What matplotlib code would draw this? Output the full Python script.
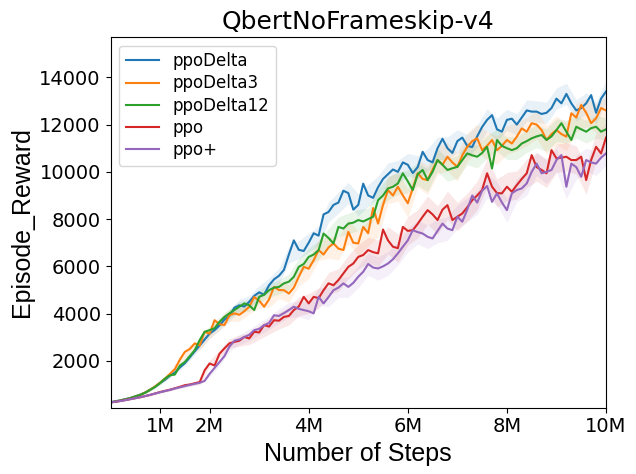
import numpy as np
import matplotlib
matplotlib.use("Agg")
import matplotlib.pyplot as plt

steps_m = [round(0.1 * i, 1) for i in range(101)]

ppoDelta = [250, 290, 330, 380, 430, 500, 570, 660, 780, 900, 1060, 1200, 1380, 1500, 1720, 1900, 2150, 2400, 2650, 2900,
            3150, 3300, 3500, 3750, 3900, 4250, 4350, 4300, 4500, 4750, 4900, 4800, 5200, 5450, 5600, 5850, 6500, 7100, 6700, 6650,
            7000, 7400, 7300, 8200, 8300, 8600, 8700, 9200, 9100, 8400, 8600, 9500, 9000, 8900, 9350, 9700, 9900, 10100, 10000, 10400,
            10300, 9950, 10200, 10850, 10500, 10400, 11000, 11400, 11000, 10800, 11300, 11450, 11100, 11050, 11500, 11900, 12200, 12400, 11800, 11700,
            12200, 12250, 12000, 12300, 12600, 12550, 12550, 12450, 12500, 12700, 13100, 12900, 13300, 12900, 12600, 12700, 12900, 13250, 12500, 13100,
            13400]
ppoDelta3 = [240, 280, 320, 370, 420, 490, 560, 660, 780, 920, 1080, 1250, 1450, 1650, 2050, 2380, 2500, 2740, 2650, 3230,
             3150, 3720, 3550, 3520, 3930, 4010, 3950, 4100, 4290, 4700, 4550, 4290, 4600, 5130, 5000, 4990, 4850, 5100, 5560, 5980,
             5900, 6260, 6690, 6500, 6800, 6970, 6750, 6690, 7460, 7000, 6970, 7670, 7400, 8470, 7810, 8600, 9230, 9000, 9370, 9000,
             8670, 9300, 9940, 9700, 9650, 10100, 10500, 10300, 10640, 10400, 10210, 10700, 11060, 11300, 11420, 10920, 11100, 11350, 10920, 11100,
             11350, 11200, 11490, 11840, 11700, 12060, 12000, 11770, 11350, 11600, 11770, 11600, 11490, 12480, 12300, 12830, 12500, 12060, 12270, 12700,
             12600]
ppoDelta12 = [240, 280, 320, 370, 420, 490, 560, 650, 770, 900, 1060, 1250, 1390, 1420, 1800, 1950, 2200, 2450, 2880, 3230,
              3300, 3380, 3650, 3860, 4010, 4150, 4290, 4430, 4350, 4150, 4710, 4800, 4990, 5100, 5130, 5280, 5350, 5560, 5980, 6100,
              6400, 6500, 6690, 7390, 7200, 6970, 7670, 7600, 7810, 7850, 7960, 7900, 8000, 8100, 8800, 9000, 9300, 9370, 9510, 9940,
              9600, 9230, 9900, 10080, 9650, 10000, 10500, 10300, 10080, 10150, 10210, 10500, 10780, 10700, 10640, 10800, 11060, 10140, 11350, 11100,
              11000, 10920, 11000, 11200, 11300, 11420, 11500, 11560, 11350, 11500, 11770, 12060, 11700, 11350, 11910, 11800, 11700, 11850, 11910, 11700,
              11800]
ppo = [240, 270, 300, 340, 380, 420, 460, 510, 560, 620, 680, 730, 780, 840, 900, 970, 1000, 1050, 1100, 1600,
       1890, 1800, 2300, 2530, 2740, 2800, 2850, 3010, 2950, 3230, 3200, 3510, 3450, 3720, 3700, 3860, 3900, 4150, 4300, 4710,
       4430, 4710, 4650, 4990, 5280, 5200, 5420, 5700, 5980, 6120, 6400, 6480, 6690, 6600, 6550, 7560, 7100, 6830, 6770, 7670,
       7500, 7530, 7800, 8100, 8380, 8200, 7960, 8400, 8590, 7960, 8100, 8240, 8500, 8800, 9000, 9230, 9940, 9370, 9100, 9090,
       9370, 9160, 9440, 9700, 9940, 10710, 10200, 10080, 9940, 10920, 10570, 10600, 10640, 10500, 10500, 10640, 9650, 10500, 11060, 10780,
       11450]
ppo_plus = [240, 270, 300, 340, 380, 420, 460, 510, 560, 615, 670, 720, 770, 830, 880, 930, 980, 1030, 1070, 1150,
            1450, 1700, 1950, 2200, 2600, 2850, 2900, 3010, 3100, 3300, 3350, 3510, 3600, 3930, 3900, 4020, 4150, 4290, 4200, 4150,
            4100, 4010, 4710, 4430, 4700, 4990, 5100, 5280, 5130, 5300, 5560, 5770, 6100, 5950, 5910, 6000, 6120, 6300, 6550, 6830,
            7100, 7530, 7450, 7390, 7250, 7180, 7500, 7810, 7600, 7530, 8100, 7890, 8400, 9000, 8700, 9200, 9400, 8730, 9090, 8700,
            8380, 9090, 9230, 9300, 9510, 10000, 10350, 9940, 10000, 10080, 10500, 10710, 9370, 10350, 10200, 9790, 10500, 10400, 10350, 10600,
            10780]

# spread (shaded band half-width) every 0.2M
sd_delta = [20, 25, 30, 40, 50, 70, 90, 110, 130, 150, 180, 200, 220, 250, 260, 280, 300, 320, 350, 380,
            400, 400, 420, 440, 450, 460, 460, 470, 480, 480, 480, 480, 480, 480, 480, 480, 480, 480,
            480, 480, 450, 450, 450, 450, 450, 450, 450, 450, 450, 450, 450]
sd_delta3 = [20, 25, 30, 40, 50, 80, 110, 150, 180, 200, 220, 240, 260, 280, 300, 320, 340, 360, 380, 400,
             420, 440, 460, 480, 500, 520, 540, 560, 580, 600, 600, 600, 600, 600, 600, 600, 600, 600,
             600, 600, 600, 600, 600, 600, 600, 600, 600, 600, 600, 600, 600]
sd_delta12 = [20, 25, 30, 40, 50, 70, 90, 110, 130, 150, 170, 190, 210, 230, 250, 270, 290, 310, 330, 350,
              370, 390, 400, 420, 440, 450, 460, 470, 480, 480, 480, 480, 480, 480, 480, 480, 480, 480,
              480, 480, 480, 480, 480, 480, 480, 480, 480, 480, 480, 480, 480]
sd_ppo = [20, 25, 30, 30, 40, 40, 50, 50, 60, 80, 120, 160, 200, 230, 260, 290, 320, 350, 380, 400,
          420, 440, 460, 480, 500, 520, 540, 560, 580, 600, 600, 600, 600, 600, 600, 600, 600, 600,
          600, 600, 600, 600, 600, 600, 600, 600, 600, 600, 600, 600, 600]
sd_ppo_plus = [20, 25, 30, 30, 40, 40, 50, 50, 60, 80, 120, 160, 200, 220, 240, 260, 280, 300, 320, 340,
               360, 380, 400, 420, 440, 460, 480, 500, 500, 500, 500, 500, 500, 500, 500, 500, 500, 500,
               500, 500, 500, 500, 500, 500, 500, 500, 500, 500, 500, 500, 500]

labels = ["ppoDelta", "ppoDelta3", "ppoDelta12", "ppo", "ppo+"]
series = [ppoDelta, ppoDelta3, ppoDelta12, ppo, ppo_plus]
sds = [sd_delta, sd_delta3, sd_delta12, sd_ppo, sd_ppo_plus]
colors = ["#1f77b4", "#ff7f0e", "#2ca02c", "#d62728", "#9467bd"]

xtick_vals = [1, 2, 4, 6, 8, 10]
xtick_labels = ["1M", "2M", "4M", "6M", "8M", "10M"]
ytick_vals = [2000, 4000, 6000, 8000, 10000, 12000, 14000]

fig = plt.figure(figsize=(6.36, 4.74), dpi=100)
ax = fig.add_axes([110.5 / 636, 1 - 407.5 / 474, 495.5 / 636, 370.3 / 474])

x = np.array(steps_m) * 1e6
for lab, y, sd, c in zip(labels, series, sds, colors):
    y = np.array(y, dtype=float)
    sd = np.array(sd, dtype=float)
    ax.fill_between(x[::2], y[::2] - sd, y[::2] + sd, color=c, alpha=0.1, linewidth=0)
    ax.plot(x, y, color=c, linewidth=1.5, label=lab)

ax.set_xlim(0, 10e6)
ax.set_ylim(25, 15700)
ax.set_xticks([v * 1e6 for v in xtick_vals])
ax.set_xticklabels(xtick_labels)
ax.set_yticks(ytick_vals)

arial = ["Liberation Sans", "DejaVu Sans"]
for t in ax.get_xticklabels() + ax.get_yticklabels():
    t.set_fontfamily("DejaVu Sans")
    t.set_fontsize(14)
ax.set_xlabel("Number of Steps", fontsize=18, family=arial)
ax.set_ylabel("Episode_Reward", fontsize=18, family=arial)
ax.set_title("QbertNoFrameskip-v4", fontsize=18, family="DejaVu Sans")
ax.legend(loc="upper left", prop={"family": "DejaVu Sans", "size": 12}, labelspacing=0.25)

fig.savefig("out.png", dpi=100)
